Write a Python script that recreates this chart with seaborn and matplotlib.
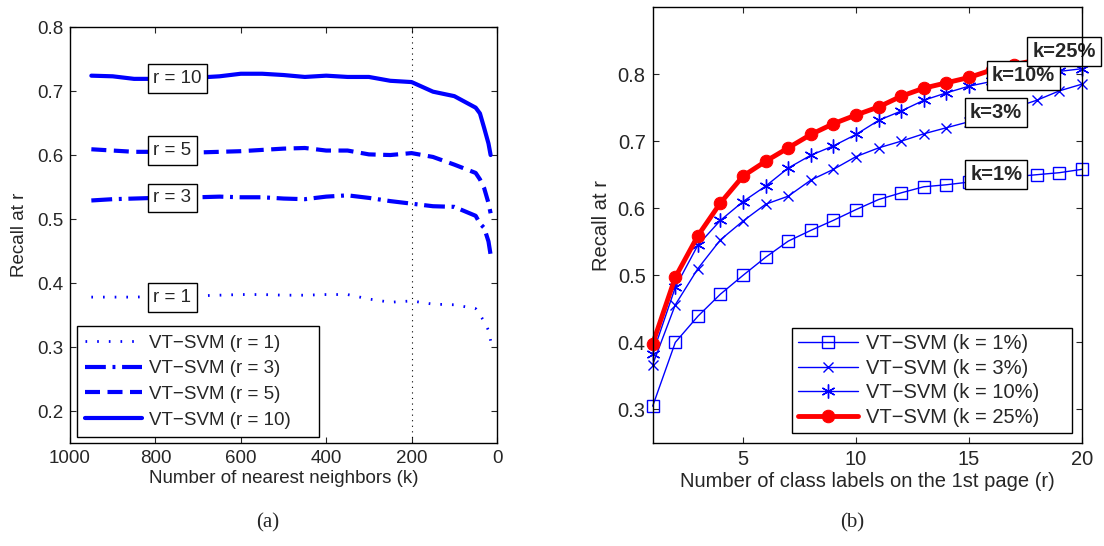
import numpy as np
import pandas as pd
import matplotlib
matplotlib.use("Agg")
import matplotlib.pyplot as plt
import seaborn as sns

# ---- panel (a): recall vs. number of nearest neighbors ----
k_values = [950, 900, 850, 800, 750, 700, 650, 600, 550, 500, 450, 400,
            350, 300, 250, 200, 150, 100, 50, 40, 30, 20, 15]
recall_r1 = [0.378, 0.378, 0.378, 0.379, 0.379, 0.380, 0.381, 0.382, 0.382, 0.381, 0.381, 0.382,
             0.382, 0.375, 0.370, 0.372, 0.367, 0.366, 0.360, 0.350, 0.340, 0.326, 0.310]
recall_r3 = [0.529, 0.531, 0.532, 0.533, 0.534, 0.534, 0.535, 0.534, 0.534, 0.532, 0.531, 0.535,
             0.537, 0.533, 0.528, 0.524, 0.520, 0.519, 0.505, 0.493, 0.486, 0.465, 0.444]
recall_r5 = [0.609, 0.607, 0.605, 0.605, 0.605, 0.604, 0.605, 0.606, 0.608, 0.610, 0.611, 0.607,
             0.607, 0.601, 0.600, 0.603, 0.597, 0.585, 0.572, 0.562, 0.548, 0.525, 0.509]
recall_r10 = [0.724, 0.723, 0.719, 0.719, 0.720, 0.721, 0.723, 0.727, 0.727, 0.725, 0.722, 0.724,
              0.722, 0.722, 0.716, 0.714, 0.699, 0.692, 0.674, 0.665, 0.642, 0.618, 0.600]
legend_a = ["VT\u2212SVM (r = 1)", "VT\u2212SVM (r = 3)", "VT\u2212SVM (r = 5)", "VT\u2212SVM (r = 10)"]
tags_a = ["r = 1", "r = 3", "r = 5", "r = 10"]

# ---- panel (b): recall vs. number of class labels ----
r_values = list(range(1, 21))
recall_k1 = [0.305, 0.400, 0.439, 0.472, 0.500, 0.527, 0.551, 0.567, 0.582, 0.598,
             0.613, 0.623, 0.632, 0.635, 0.639, 0.643, 0.647, 0.650, 0.653, 0.658]
recall_k3 = [0.367, 0.456, 0.510, 0.553, 0.581, 0.606, 0.618, 0.642, 0.658, 0.677,
             0.690, 0.700, 0.711, 0.720, 0.729, 0.739, 0.750, 0.761, 0.775, 0.785]
recall_k10 = [0.383, 0.482, 0.545, 0.582, 0.610, 0.633, 0.660, 0.679, 0.693, 0.710,
              0.731, 0.745, 0.761, 0.772, 0.782, 0.789, 0.794, 0.799, 0.804, 0.808]
recall_k25 = [0.398, 0.497, 0.559, 0.608, 0.648, 0.670, 0.690, 0.710, 0.726, 0.739,
              0.751, 0.767, 0.779, 0.787, 0.795, 0.806, 0.814, 0.821, 0.828, 0.835]
legend_b = ["VT\u2212SVM (k = 1%)", "VT\u2212SVM (k = 3%)", "VT\u2212SVM (k = 10%)", "VT\u2212SVM (k = 25%)"]
tags_b = ["k=1%", "k=3%", "k=10%", "k=25%"]

sns.set_style("ticks")
plt.rcParams["font.family"] = ["Liberation Sans", "DejaVu Sans"]
FS_A = 13.5
FS_B = 14.5
plt.rcParams.update({
    "xtick.direction": "in", "ytick.direction": "in",
    "xtick.top": True, "ytick.right": True,
    "xtick.major.size": 4, "ytick.major.size": 4,
    "xtick.major.width": 0.8, "ytick.major.width": 0.8,
    "axes.edgecolor": "black", "axes.linewidth": 1.0,
})

fig = plt.figure(figsize=(11.04, 5.46), dpi=100)
ax_a = fig.add_axes([0.0634, 0.1886, 0.3868, 0.7619])
ax_b = fig.add_axes([0.5912, 0.1886, 0.3889, 0.7986])

blue = "#0000ff"
red = "#ff0000"

# panel (a) curves
df_a = pd.DataFrame({"k": k_values, "r1": recall_r1, "r3": recall_r3,
                     "r5": recall_r5, "r10": recall_r10})
styles_a = [(0, (0.6, 3.6)), (0, (5, 1.6, 0.7, 1.6)), (0, (3.6, 1.8)), "-"]
for col, ls, lab in zip(["r1", "r3", "r5", "r10"], styles_a, legend_a):
    lw = 2.0 if col == "r1" else 3.0
    sns.lineplot(data=df_a, x="k", y=col, ax=ax_a, color=blue, lw=lw,
                 linestyle=ls, label=lab, sort=False)

ax_a.axvline(200, color="black", lw=0.8, linestyle=(0, (1, 4)), zorder=1)
ax_a.set_xlim(1000, 0)
ax_a.set_ylim(0.15, 0.8)
ax_a.set_xticks([1000, 800, 600, 400, 200, 0])
ax_a.set_yticks([0.2, 0.3, 0.4, 0.5, 0.6, 0.7, 0.8])
ax_a.tick_params(labelsize=FS_A)
ax_a.set_xlabel("Number of nearest neighbors (k)", fontsize=FS_A, labelpad=2)
ax_a.set_ylabel("Recall at r", fontsize=FS_A, labelpad=6)
leg_a = ax_a.legend(loc="lower left", bbox_to_anchor=(0.0164, 0.0144, 0.567, 0.3),
                    mode="expand", fontsize=FS_A, frameon=True, fancybox=False,
                    edgecolor="black", framealpha=1, handlelength=3.0,
                    handletextpad=0.4, borderpad=0.45, labelspacing=0.45,
                    borderaxespad=0.0)
leg_a.get_frame().set_linewidth(1.0)

tag_pos_a = [(805, 0.3775), (805, 0.533), (805, 0.607), (805, 0.7196)]
for (x, y), t in zip(tag_pos_a, tags_a):
    ax_a.text(x, y, t, fontsize=FS_A, ha="left", va="center", zorder=5,
              bbox=dict(boxstyle="square,pad=0.3", fc="white", ec="black", lw=1.0))

# panel (b) curves
df_b = pd.DataFrame({"r": r_values, "k1": recall_k1, "k3": recall_k3,
                     "k10": recall_k10, "k25": recall_k25})
specs_b = [
    ("k1", dict(color=blue, lw=1.0, marker="s", markersize=8, markerfacecolor="none",
                markeredgecolor=blue, markeredgewidth=1.0)),
    ("k3", dict(color=blue, lw=1.0, marker="x", markersize=7,
                markeredgecolor=blue, markeredgewidth=1.0)),
    ("k10", dict(color=blue, lw=1.0, marker=(6, 2, 0), markersize=10,
                 markeredgecolor=blue, markeredgewidth=1.0)),
    ("k25", dict(color=red, lw=3.5, marker="o", markersize=9,
                 markerfacecolor=red, markeredgecolor=red)),
]
for (col, kw), lab in zip(specs_b, legend_b):
    sns.lineplot(data=df_b, x="r", y=col, ax=ax_b, label=lab, clip_on=False, **kw)

ax_b.set_xlim(1, 20)
ax_b.set_ylim(0.25, 0.9)
ax_b.set_xticks([5, 10, 15, 20])
ax_b.set_yticks([0.3, 0.4, 0.5, 0.6, 0.7, 0.8])
ax_b.tick_params(labelsize=FS_B)
ax_b.set_xlabel("Number of class labels on the 1st page (r)", fontsize=FS_B, labelpad=2)
ax_b.set_ylabel("Recall at r", fontsize=FS_B, labelpad=5)
leg_b = ax_b.legend(loc="lower left", bbox_to_anchor=(0.3245, 0.023, 0.652, 0.3),
                    mode="expand", fontsize=FS_B, frameon=True, fancybox=False,
                    edgecolor="black", framealpha=1, handlelength=3.0,
                    handletextpad=0.35, borderpad=0.3, labelspacing=0.28,
                    borderaxespad=0.0)
leg_b.get_frame().set_linewidth(1.0)

tag_pos_b = [(16.2, 0.650), (16.2, 0.743), (17.4, 0.7985), (19.2, 0.833)]
for (x, y), t in zip(tag_pos_b, tags_b):
    ax_b.text(x, y, t, fontsize=FS_B, fontweight="bold", ha="center", va="center",
              zorder=5, clip_on=False,
              bbox=dict(boxstyle="square,pad=0.25", fc="white", ec="black", lw=1.0))

for ax in (ax_a, ax_b):
    for s in ax.spines.values():
        s.set_visible(True)
        s.set_zorder(6)
    ax.tick_params(which="both", direction="in", top=True, right=True, pad=5)

# sub-figure captions
fig.text(0.2425, 0.042, "(a)", fontsize=15, ha="center", va="center",
         family=["Liberation Serif", "DejaVu Serif"])
fig.text(0.7717, 0.042, "(b)", fontsize=15, ha="center", va="center",
         family=["Liberation Serif", "DejaVu Serif"])

fig.savefig("out.png", dpi=100)
